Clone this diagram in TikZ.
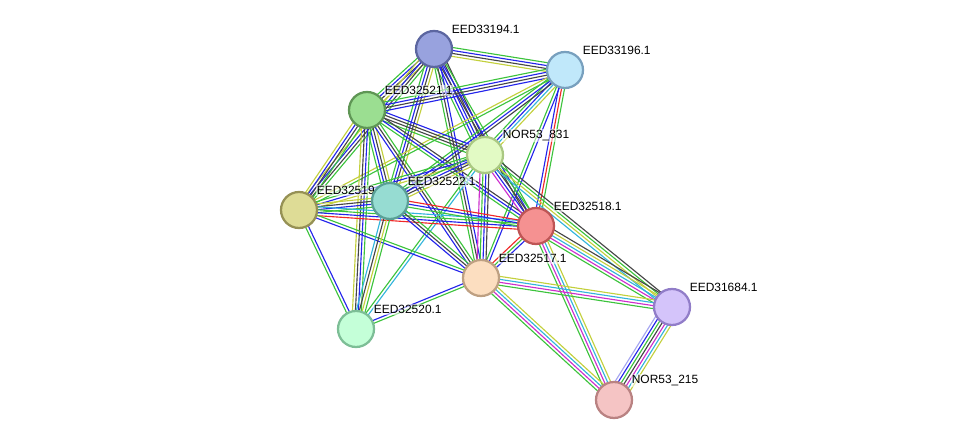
\documentclass[tikz,border=0pt]{standalone}
\usepackage{fontspec}
\setmainfont{Liberation Sans}
\usetikzlibrary{calc,backgrounds}

\definecolor{nbh}{RGB}{60,195,60}
\definecolor{cooc}{RGB}{35,35,235}
\definecolor{coex}{RGB}{70,70,70}
\definecolor{tmine}{RGB}{195,208,60}
\definecolor{dbase}{RGB}{50,180,220}
\definecolor{expt}{RGB}{205,45,205}
\definecolor{fusion}{RGB}{240,40,40}
\definecolor{homol}{RGB}{165,165,240}

\tikzset{
  prot/.style={circle, minimum size=0.9cm, inner sep=0pt, line width=1.6pt},
  lbl/.style={anchor=west, xshift=0.08cm, yshift=0.15cm, inner sep=0.6pt,
    font=\fontsize{8.5}{10}\selectfont, fill=white, fill opacity=0.55, text opacity=1},
  edge/.style={line width=0.8pt}
}

% one bundle of coloured evidence lines between two proteins
\newcommand\link[3]{%
  \foreach \c [count=\i] in {#3} {\xdef\linkn{\i}}%
  \foreach \c [count=\i] in {#3} {%
    \pgfmathsetmacro\off{(\i-(\linkn+1)/2)*2.1}%
    \draw[\c, edge] ($(#1)!\off pt!90:(#2)$) -- ($(#2)!\off pt!-90:(#1)$);
  }}

\begin{document}
\begin{tikzpicture}[x=0.025cm, y=-0.025cm]
  \useasboundingbox (0,0) rectangle (976,445);

  \node[prot, fill={rgb,255:red,152;green,162;blue,222}, draw={rgb,255:red,92;green,102;blue,160},
    label={[lbl]45:EED33194.1}] (A) at (434,49) {};
  \node[prot, fill={rgb,255:red,192;green,232;blue,250}, draw={rgb,255:red,120;green,160;blue,190},
    label={[lbl]45:EED33196.1}] (B) at (565,70) {};
  \node[prot, fill={rgb,255:red,155;green,222;blue,145}, draw={rgb,255:red,95;green,150;blue,85},
    label={[lbl]45:EED32521.1}] (C) at (367,110) {};
  \node[prot, fill={rgb,255:red,226;green,250;blue,196}, draw={rgb,255:red,170;green,200;blue,130},
    label={[lbl]45:NOR53\_831}] (D) at (485,155) {};
  \node[prot, fill={rgb,255:red,222;green,220;blue,150}, draw={rgb,255:red,150;green,145;blue,85},
    label={[lbl]45:EED32519.1}] (E) at (299,210) {};
  \node[prot, fill={rgb,255:red,150;green,220;blue,210}, draw={rgb,255:red,90;green,160;blue,150},
    label={[lbl]45:EED32522.1}] (F) at (390,201) {};
  \node[prot, fill={rgb,255:red,245;green,145;blue,145}, draw={rgb,255:red,190;green,85;blue,85},
    label={[lbl]45:EED32518.1}] (G) at (536,226) {};
  \node[prot, fill={rgb,255:red,252;green,222;blue,192}, draw={rgb,255:red,190;green,160;blue,130},
    label={[lbl]45:EED32517.1}] (H) at (481,278) {};
  \node[prot, fill={rgb,255:red,196;green,255;blue,216}, draw={rgb,255:red,125;green,190;blue,150},
    label={[lbl]45:EED32520.1}] (I) at (356,329) {};
  \node[prot, fill={rgb,255:red,212;green,196;blue,250}, draw={rgb,255:red,145;green,125;blue,200},
    label={[lbl]45:EED31684.1}] (J) at (672,307) {};
  \node[prot, fill={rgb,255:red,245;green,196;blue,196}, draw={rgb,255:red,185;green,130;blue,130},
    label={[lbl]45:NOR53\_215}] (K) at (614,400) {};

  \begin{scope}[on background layer]
    \link{A}{B}{tmine,coex,cooc,nbh}
    \link{A}{C}{nbh,cooc,coex,tmine}
    \link{A}{D}{nbh,cooc,cooc,coex,coex}
    \link{A}{E}{tmine,cooc,coex,nbh}
    \link{A}{F}{nbh,cooc,coex,tmine}
    \link{A}{G}{coex,cooc,nbh}
    \link{A}{H}{nbh,coex,cooc}
    \link{B}{C}{nbh,cooc,coex,cooc}
    \link{B}{D}{nbh,cooc,dbase,tmine}
    \link{B}{E}{tmine,nbh}
    \link{B}{F}{nbh,cooc,coex}
    \link{B}{G}{cooc,fusion,nbh}
    \link{B}{H}{nbh,cooc}
    \link{C}{D}{nbh,coex,coex,cooc}
    \link{C}{E}{tmine,cooc,coex,nbh}
    \link{C}{F}{nbh,cooc,coex,tmine}
    \link{C}{G}{nbh,cooc,coex}
    \link{C}{H}{cooc,coex,nbh}
    \link{C}{I}{tmine,coex,cooc,nbh}
    \link{D}{E}{nbh,cooc,tmine}
    \link{D}{F}{nbh,cooc,coex,tmine}
    \link{D}{G}{expt,cooc,coex,nbh}
    \link{D}{H}{expt,nbh,cooc,coex}
    \link{D}{I}{nbh,dbase}
    \link{D}{J}{dbase,tmine,nbh,coex}
    \link{E}{F}{nbh,cooc,coex,tmine}
    \link{E}{G}{fusion,cooc,nbh,dbase}
    \link{E}{H}{cooc,nbh}
    \link{E}{I}{nbh,cooc}
    \link{F}{G}{nbh,cooc,fusion}
    \link{F}{H}{cooc,coex,nbh}
    \link{F}{I}{dbase,coex,tmine,nbh}
    \link{G}{H}{fusion,nbh,cooc}
    \link{G}{J}{nbh,expt,dbase,tmine,coex}
    \link{G}{K}{nbh,expt,dbase,tmine}
    \link{H}{I}{cooc,nbh}
    \link{H}{J}{nbh,expt,dbase,tmine}
    \link{H}{K}{nbh,expt,dbase,tmine}
    \link{J}{K}{homol,cooc,nbh,coex,expt,dbase,tmine}
  \end{scope}
\end{tikzpicture}
\end{document}
